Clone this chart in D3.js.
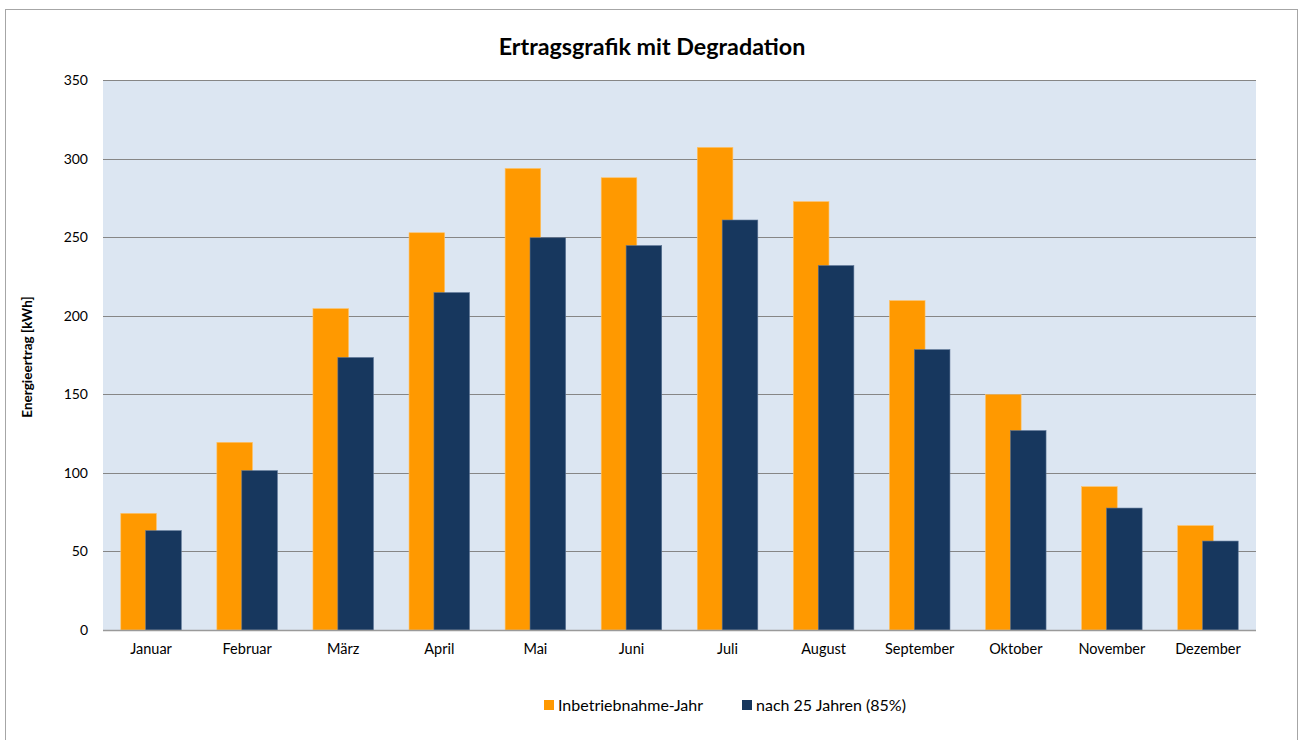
<!DOCTYPE html>
<html>
<head>
<meta charset="utf-8">
<script src="https://cdn.jsdelivr.net/npm/d3@7"></script>
<style>
  body { margin: 0; background: #fff; }
  svg text { font-family: Lato, "Open Sans", sans-serif; fill: #000; }
</style>
</head>
<body>
<div id="canvas"></div>
<script>
const months = ["Januar", "Februar", "März", "April", "Mai", "Juni", "Juli",
  "August", "September", "Oktober", "November", "Dezember"];
const ertragStart = [74.2, 119.4, 204.5, 252.8, 293.7, 287.8, 307.1, 272.6, 209.6, 149.8, 91.2, 66.4];
const ertrag25 = [63.2, 101.4, 173.4, 214.7, 249.6, 244.6, 260.9, 231.9, 178.4, 126.9, 77.6, 56.6];
const yTicks = [0, 50, 100, 150, 200, 250, 300, 350];
const seriesNames = ["Inbetriebnahme-Jahr", "nach 25 Jahren (85%)"];
const colors = ["#ff9900", "#17375e"];

const width = 1298;
const height = 740;
const margin = { top: 80, left: 103, bottom: 110, right: 42 };

const svg = d3.select("#canvas")
  .append("svg")
  .attr("width", width)
  .attr("height", height);

// Rahmen
svg.append("rect")
  .attr("x", 5.5)
  .attr("y", 9.5)
  .attr("width", 1292)
  .attr("height", 740)
  .attr("fill", "#fff")
  .attr("stroke", "#a6a6a6");

const x = d3.scaleBand()
  .domain(months)
  .range([margin.left, width - margin.right]);

const y = d3.scaleLinear()
  .domain([0, 350])
  .range([height - margin.bottom, margin.top]);

// Plotfläche
svg.append("rect")
  .attr("x", x.range()[0])
  .attr("y", y(350))
  .attr("width", x.range()[1] - x.range()[0])
  .attr("height", y(0) - y(350))
  .attr("fill", "#dce6f2");

// Gitternetz
svg.append("g")
  .selectAll("line")
  .data(yTicks)
  .join("line")
  .attr("x1", x.range()[0])
  .attr("x2", x.range()[1])
  .attr("y1", d => Math.round(y(d)) + 0.5)
  .attr("y2", d => Math.round(y(d)) + 0.5)
  .attr("stroke", "#868686")
  .attr("stroke-width", 1.2);

// Balken: Breite w, Überlappung 30%, Abstand 100%
const w = x.bandwidth() / 2.7;
const offsets = [0.5 * w, 1.2 * w];
const series = [ertragStart, ertrag25];
const strokes = ["#ffc266", "#5a7394"];

series.forEach((vals, s) => {
  svg.append("g")
    .selectAll("rect")
    .data(vals)
    .join("rect")
    .attr("x", (d, i) => x(months[i]) + offsets[s])
    .attr("y", d => y(d))
    .attr("width", w)
    .attr("height", d => y(0) - y(d))
    .attr("fill", colors[s])
    .attr("stroke", strokes[s])
    .attr("stroke-width", 0.6);
});

// Achsenlinie
svg.append("line")
  .attr("x1", x.range()[0])
  .attr("x2", x.range()[1])
  .attr("y1", y(0) + 0.5)
  .attr("y2", y(0) + 0.5)
  .attr("stroke", "#9a9a9a")
  .attr("stroke-width", 1.5);

// y-Achse
const yAxis = svg.append("g")
  .attr("transform", `translate(${margin.left - 15},0)`)
  .call(d3.axisLeft(y).tickValues(yTicks).tickSize(0));
yAxis.select(".domain").remove();
yAxis.selectAll("text")
  .attr("x", 0)
  .style("font-size", "14px")
  .style("font-family", "Lato, sans-serif");

// x-Achse
const xAxis = svg.append("g")
  .attr("transform", `translate(0,${y(0)})`)
  .call(d3.axisBottom(x).tickSize(0));
xAxis.select(".domain").remove();
xAxis.selectAll("text")
  .attr("y", 14)
  .style("font-size", "14.5px")
  .style("font-family", "Lato, sans-serif");

// Titel
svg.append("text")
  .attr("x", 652)
  .attr("y", 55)
  .attr("text-anchor", "middle")
  .style("font-size", "23.3px")
  .style("font-weight", "bold")
  .text("Ertragsgrafik mit Degradation");

svg.append("text")
  .attr("transform", "translate(32,357) rotate(-90)")
  .attr("text-anchor", "middle")
  .style("font-size", "13.5px")
  .style("font-weight", "bold")
  .text("Energieertrag [kWh]");

// Legende
const legendX = [544, 742];
const legend = svg.append("g")
  .selectAll("g")
  .data(seriesNames)
  .join("g")
  .attr("transform", (d, i) => `translate(${legendX[i]},700)`);
legend.append("rect")
  .attr("width", 10)
  .attr("height", 10)
  .attr("fill", (d, i) => colors[i]);
legend.append("text")
  .attr("x", 14)
  .attr("y", 11)
  .style("font-size", "16px")
  .text(d => d);
</script>
</body>
</html>
